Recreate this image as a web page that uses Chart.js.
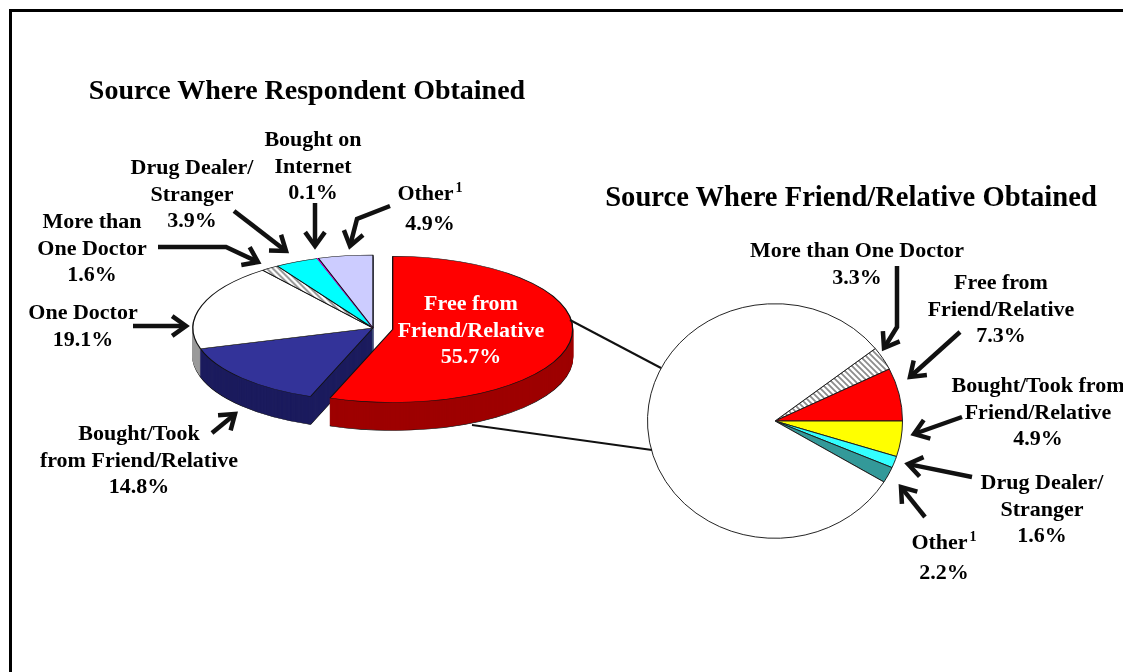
<!DOCTYPE html>
<html>
<head>
<meta charset="utf-8">
<title>Source Where Pain Relievers Were Obtained</title>
<script src="https://cdn.jsdelivr.net/npm/chart.js@4.4.1/dist/chart.umd.min.js"></script>
<style>
  html, body { margin: 0; padding: 0; background: #fff; }
  #page { position: relative; width: 1123px; height: 672px; overflow: hidden;
          font-family: "Liberation Serif", "Times New Roman", serif; font-weight: bold; color: #000; }
  #frame { position: absolute; left: 9px; top: 9px; width: 1300px; height: 800px;
           border-left: 3px solid #000; border-top: 3px solid #000; }
  canvas { position: absolute; }
  svg { position: absolute; left: 0; top: 0; }
  .title { position: absolute; font-size: 28px; line-height: 28px; white-space: nowrap; transform: translateX(-50%); }
  .lbl { position: absolute; font-size: 22px; line-height: 26.5px; white-space: nowrap; text-align: center; transform: translateX(-50%); }
  .lbl sup { font-size: 14px; vertical-align: 0; position: relative; top: -8px; margin-left: 2px; }
</style>
</head>
<body>
<div id="page">
  <div id="frame"></div>
  <canvas id="respondentPie" width="460" height="460" style="left:143px; top:98px;"></canvas>
  <canvas id="friendPie" width="300" height="300" style="left:625px; top:271px;"></canvas>
  <svg id="overlay" width="1123" height="672"></svg>
  <div class="title" style="left:307px; top:76px;">Source Where Respondent Obtained</div>
  <div class="title" style="left:851px; top:183px; font-size:28.6px;">Source Where Friend/Relative Obtained</div>
</div>
<script>
// where respondents got the pain relievers (percent)
const respondentSources = ['Free from\nFriend/Relative', 'Bought/Took\nfrom Friend/Relative', 'One Doctor',
  'More than\nOne Doctor', 'Drug Dealer/\nStranger', 'Bought on\nInternet', 'Other'];
const respondentShares = [55.7, 14.8, 19.1, 1.6, 3.9, 0.1, 4.9];

// where the friend/relative got them (percent)
const friendSources = ['More than One Doctor', 'Free from\nFriend/Relative', 'Bought/Took from\nFriend/Relative',
  'Drug Dealer/\nStranger', 'Other', 'One Doctor'];
const friendShares = [3.3, 7.3, 4.9, 1.6, 2.2, 80.7];

// label anchors: centre x, middle of first line
const respondentLabelAt = [[471, 303], [139, 433], [83, 312], [92, 221], [192, 167], [313, 139], [430, 193]];
const friendLabelAt = [[857, 250], [1001, 282], [1038, 385], [1042, 482], [944, 542], null];

const LEFT_SQUASH = 0.406;
const RIGHT_SQUASH = 0.92;

function hatch(squash) {
  const c = document.createElement('canvas');
  c.width = 6; c.height = 6;
  const g = c.getContext('2d');
  g.fillStyle = '#fff';
  g.fillRect(0, 0, 6, 6);
  g.strokeStyle = '#8c8c8c';
  g.lineWidth = 1.8;
  g.beginPath();
  g.moveTo(-1, -1); g.lineTo(7, 7);
  g.moveTo(-1, 5); g.lineTo(1, 7);
  g.moveTo(5, -1); g.lineTo(7, 1);
  g.stroke();
  const p = g.createPattern(c, 'repeat');
  p.setTransform(new DOMMatrix().scale(1, 1 / squash));
  return p;
}

// tilted pie: squash the arcs, stack darker copies underneath for the rim,
// and pull individual slices out
const tiltedPie = {
  id: 'tiltedPie',
  beforeDatasetDraw(chart, args, opts) {
    const ctx = chart.ctx;
    const arcs = args.meta.data;
    const sy = opts.squash;
    const cx = arcs[0].x, cy = arcs[0].y;
    ctx.save();
    ctx.translate(cx, cy);
    ctx.scale(1, sy);
    ctx.translate(-cx, -cy);
    const pieces = arcs.map((arc, i) => {
      const mid = (arc.startAngle + arc.endAngle) / 2;
      const pull = (opts.explode && opts.explode[i]) || 0;
      return { arc, dx: Math.cos(mid) * pull, dy: Math.sin(mid) * pull };
    });
    for (let k = opts.depth; k >= 1; k--) {
      pieces.forEach(({ arc, dx, dy }, i) => {
        const keep = arc.options;
        const side = opts.sides[i];
        arc.options = Object.assign({}, keep, {
          backgroundColor: side,
          borderColor: k === opts.depth ? '#111' : side
        });
        ctx.save();
        ctx.translate(dx, dy + k / sy);
        arc.draw(ctx);
        ctx.restore();
        arc.options = keep;
      });
    }
    pieces.forEach(({ arc, dx, dy }) => {
      ctx.save();
      ctx.translate(dx, dy);
      arc.draw(ctx);
      ctx.restore();
    });
    ctx.restore();
    return false;
  }
};

const flat = {
  responsive: false,
  devicePixelRatio: 1,
  animation: false,
  events: [],
  plugins: { legend: { display: false }, tooltip: { enabled: false } }
};

new Chart(document.getElementById('respondentPie'), {
  type: 'pie',
  data: {
    labels: respondentSources,
    datasets: [{
      data: respondentShares,
      backgroundColor: ['#ff0000', '#333399', '#ffffff', hatch(LEFT_SQUASH), '#00ffff', '#ff00ff', '#ccccff'],
      borderColor: ['#111', '#111', '#111', '#111', '#111', '#ff00ff', '#111'],
      borderWidth: 1.3
    }]
  },
  options: Object.assign({}, flat, {
    radius: 180,
    rotation: 0,
    plugins: Object.assign({}, flat.plugins, {
      tiltedPie: {
        squash: LEFT_SQUASH,
        depth: 28,
        explode: [20],
        sides: ['#9e0000', '#1c1c5e', '#9a9a9a', '#8a8a8a', '#009a9a', '#990099', '#7a7aa0']
      }
    })
  }),
  plugins: [tiltedPie]
});

new Chart(document.getElementById('friendPie'), {
  type: 'pie',
  data: {
    labels: friendSources,
    datasets: [{
      data: friendShares,
      backgroundColor: [hatch(RIGHT_SQUASH), '#ff0000', '#ffff00', '#33ffff', '#339999', '#ffffff'],
      borderColor: '#1a1a1a',
      borderWidth: 1
    }]
  },
  options: Object.assign({}, flat, {
    radius: 127.5,
    // red/yellow boundary sits at 3 o'clock
    rotation: 90 - (friendShares[0] + friendShares[1]) * 3.6,
    plugins: Object.assign({}, flat.plugins, {
      tiltedPie: { squash: RIGHT_SQUASH, depth: 0, sides: [] }
    })
  }),
  plugins: [tiltedPie]
});

// slice labels
const page = document.getElementById('page');
function addLabels(names, shares, anchors, colours) {
  names.forEach((name, i) => {
    if (!anchors[i]) return;
    const div = document.createElement('div');
    div.className = 'lbl';
    const lines = name.split('\n').map(s => s === 'Other' ? 'Other<sup>1</sup>' : s);
    lines.push(shares[i].toFixed(1) + '%');
    div.innerHTML = lines.join('<br>');
    div.style.left = anchors[i][0] + 'px';
    div.style.top = (anchors[i][1] - 13) + 'px';
    if (colours && colours[i]) div.style.color = colours[i];
    page.appendChild(div);
  });
}
addLabels(respondentSources, respondentShares, respondentLabelAt, ['#fff']);
addLabels(friendSources, friendShares, friendLabelAt);

// connector lines and pointer arrows
const svg = document.getElementById('overlay');
const NS = 'http://www.w3.org/2000/svg';
function line(pts, width) {
  const el = document.createElementNS(NS, 'polyline');
  el.setAttribute('points', pts.map(p => p.join(',')).join(' '));
  el.setAttribute('fill', 'none');
  el.setAttribute('stroke', '#111');
  el.setAttribute('stroke-width', width);
  el.setAttribute('stroke-linejoin', 'miter');
  svg.appendChild(el);
}
function arrow(pts) {
  const tip = pts[pts.length - 1];
  const prev = pts[pts.length - 2];
  const a = Math.atan2(tip[1] - prev[1], tip[0] - prev[0]);
  const len = 17, spread = 0.62;
  const back = pts.slice(0, -1).concat([[tip[0] - Math.cos(a) * 3, tip[1] - Math.sin(a) * 3]]);
  line(back, 4.5);
  line([
    [tip[0] - Math.cos(a - spread) * len, tip[1] - Math.sin(a - spread) * len],
    tip,
    [tip[0] - Math.cos(a + spread) * len, tip[1] - Math.sin(a + spread) * len]
  ], 4.5);
}

line([[570, 320], [661, 368]], 2);
line([[472, 425], [652, 450]], 2);

[
  [[315, 203], [315, 246]],
  [[390, 206], [357, 219], [350, 246]],
  [[234, 211], [286, 251]],
  [[158, 247], [226, 247], [258, 262]],
  [[133, 326], [186, 326]],
  [[212, 433], [235, 414]],
  [[897, 266], [897, 327], [884, 348]],
  [[960, 332], [910, 377]],
  [[962, 417], [914, 434]],
  [[972, 477], [908, 464]],
  [[925, 517], [901, 487]]
].forEach(arrow);
</script>
</body>
</html>
